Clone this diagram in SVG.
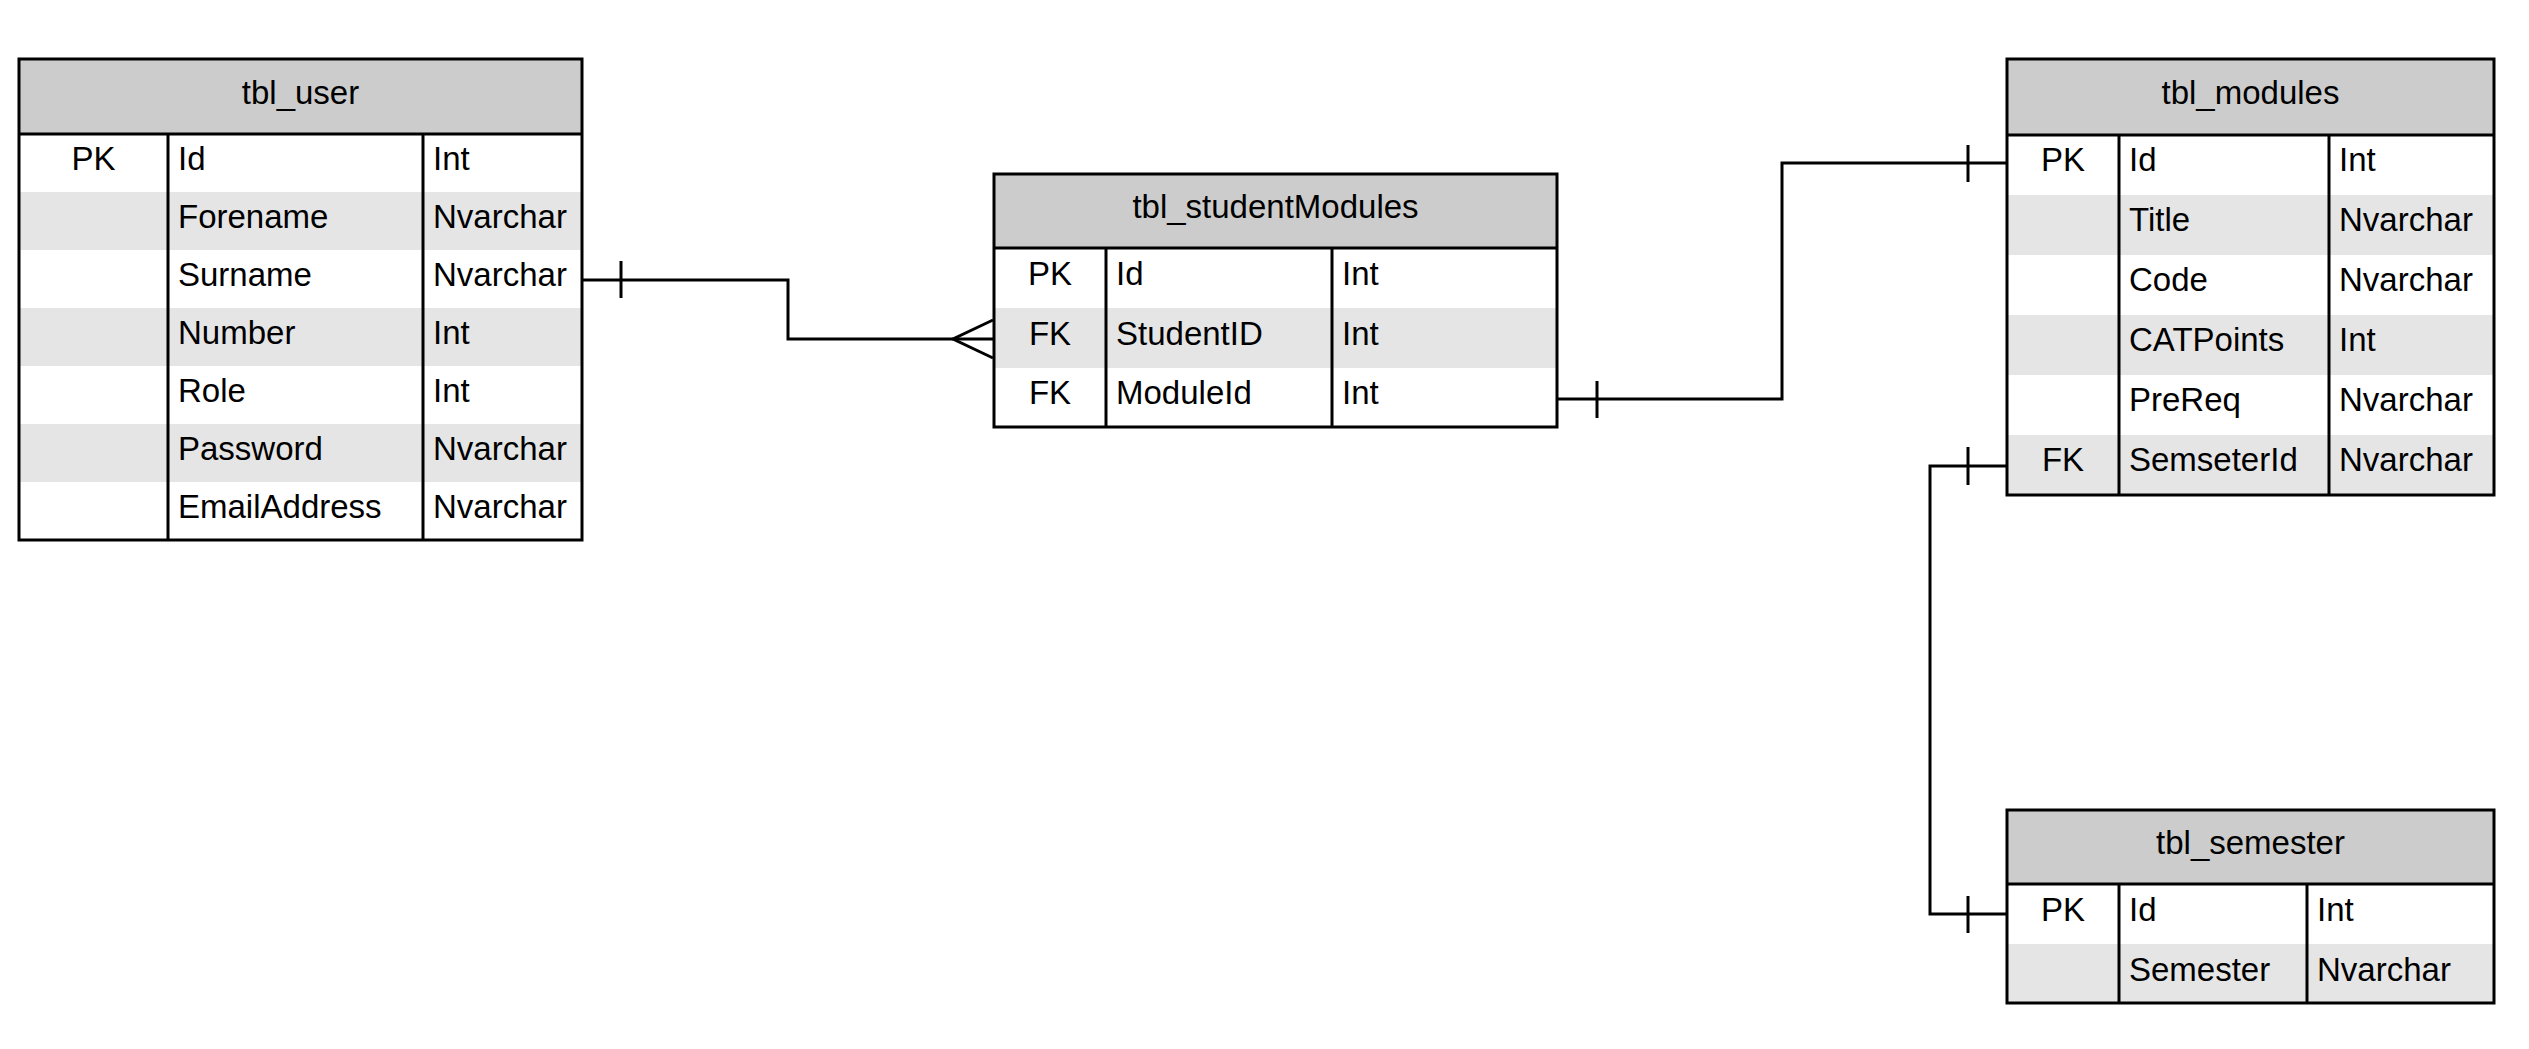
<svg xmlns="http://www.w3.org/2000/svg" width="2529" height="1049" viewBox="0 0 2529 1049">
<style>
  .bg { fill: #ffffff; }
  .hdr { fill: #cccccc; }
  .stripe { fill: #e5e5e5; }
  .ln { stroke: #000000; stroke-width: 3; fill: none; }
  .t { font-family: "Liberation Sans", Arial, sans-serif; font-size: 33px; fill: #000000; }
  .c { text-anchor: middle; }
  .conn { stroke: #000000; stroke-width: 3; fill: none; stroke-linejoin: miter; }
</style>
<rect x="0" y="0" width="2529" height="1049" fill="#ffffff"/>

<g id="tbl_user">
  <rect class="bg" x="19" y="59" width="563" height="481"/>
  <rect class="hdr" x="19" y="59" width="563" height="75"/>
  <rect class="stripe" x="19" y="192" width="563" height="58"/>
  <rect class="stripe" x="19" y="308" width="563" height="58"/>
  <rect class="stripe" x="19" y="424" width="563" height="58"/>
  <rect class="ln" x="19" y="59" width="563" height="481"/>
  <line class="ln" x1="19" y1="134" x2="582" y2="134"/>
  <line class="ln" x1="168" y1="134" x2="168" y2="540"/>
  <line class="ln" x1="423" y1="134" x2="423" y2="540"/>
  <text class="t c" x="300.5" y="104">tbl_user</text>
  <text class="t c" x="93.5" y="169.5">PK</text>
  <text class="t" x="178" y="169.5">Id</text>
  <text class="t" x="433" y="169.5">Int</text>
  <text class="t" x="178" y="227.5">Forename</text>
  <text class="t" x="433" y="227.5">Nvarchar</text>
  <text class="t" x="178" y="285.5">Surname</text>
  <text class="t" x="433" y="285.5">Nvarchar</text>
  <text class="t" x="178" y="343.5">Number</text>
  <text class="t" x="433" y="343.5">Int</text>
  <text class="t" x="178" y="401.5">Role</text>
  <text class="t" x="433" y="401.5">Int</text>
  <text class="t" x="178" y="459.5">Password</text>
  <text class="t" x="433" y="459.5">Nvarchar</text>
  <text class="t" x="178" y="517.5">EmailAddress</text>
  <text class="t" x="433" y="517.5">Nvarchar</text>
</g>

<g id="tbl_studentModules">
  <rect class="bg" x="994" y="174" width="563" height="253"/>
  <rect class="hdr" x="994" y="174" width="563" height="74"/>
  <rect class="stripe" x="994" y="308" width="563" height="60"/>
  <rect class="ln" x="994" y="174" width="563" height="253"/>
  <line class="ln" x1="994" y1="248" x2="1557" y2="248"/>
  <line class="ln" x1="1106" y1="248" x2="1106" y2="427"/>
  <line class="ln" x1="1332" y1="248" x2="1332" y2="427"/>
  <text class="t c" x="1275.5" y="218">tbl_studentModules</text>
  <text class="t c" x="1050" y="285">PK</text>
  <text class="t" x="1116" y="285">Id</text>
  <text class="t" x="1342" y="285">Int</text>
  <text class="t c" x="1050" y="345">FK</text>
  <text class="t" x="1116" y="345">StudentID</text>
  <text class="t" x="1342" y="345">Int</text>
  <text class="t c" x="1050" y="404">FK</text>
  <text class="t" x="1116" y="404">ModuleId</text>
  <text class="t" x="1342" y="404">Int</text>
</g>

<g id="tbl_modules">
  <rect class="bg" x="2007" y="59" width="487" height="436"/>
  <rect class="hdr" x="2007" y="59" width="487" height="76"/>
  <rect class="stripe" x="2007" y="195" width="487" height="60"/>
  <rect class="stripe" x="2007" y="315" width="487" height="60"/>
  <rect class="stripe" x="2007" y="435" width="487" height="60"/>
  <rect class="ln" x="2007" y="59" width="487" height="436"/>
  <line class="ln" x1="2007" y1="135" x2="2494" y2="135"/>
  <line class="ln" x1="2119" y1="135" x2="2119" y2="495"/>
  <line class="ln" x1="2329" y1="135" x2="2329" y2="495"/>
  <text class="t c" x="2250.5" y="104">tbl_modules</text>
  <text class="t c" x="2063" y="171">PK</text>
  <text class="t" x="2129" y="171">Id</text>
  <text class="t" x="2339" y="171">Int</text>
  <text class="t" x="2129" y="231">Title</text>
  <text class="t" x="2339" y="231">Nvarchar</text>
  <text class="t" x="2129" y="291">Code</text>
  <text class="t" x="2339" y="291">Nvarchar</text>
  <text class="t" x="2129" y="351">CATPoints</text>
  <text class="t" x="2339" y="351">Int</text>
  <text class="t" x="2129" y="411">PreReq</text>
  <text class="t" x="2339" y="411">Nvarchar</text>
  <text class="t c" x="2063" y="471">FK</text>
  <text class="t" x="2129" y="471">SemseterId</text>
  <text class="t" x="2339" y="471">Nvarchar</text>
</g>

<g id="tbl_semester">
  <rect class="bg" x="2007" y="810" width="487" height="193"/>
  <rect class="hdr" x="2007" y="810" width="487" height="74"/>
  <rect class="stripe" x="2007" y="944" width="487" height="59"/>
  <rect class="ln" x="2007" y="810" width="487" height="193"/>
  <line class="ln" x1="2007" y1="884" x2="2494" y2="884"/>
  <line class="ln" x1="2119" y1="884" x2="2119" y2="1003"/>
  <line class="ln" x1="2307" y1="884" x2="2307" y2="1003"/>
  <text class="t c" x="2250.5" y="854">tbl_semester</text>
  <text class="t c" x="2063" y="920.5">PK</text>
  <text class="t" x="2129" y="920.5">Id</text>
  <text class="t" x="2317" y="920.5">Int</text>
  <text class="t" x="2129" y="980.5">Semester</text>
  <text class="t" x="2317" y="980.5">Nvarchar</text>
</g>

<g id="connectors">
  <g id="user_studentModules">
    <path class="conn" d="M582,280 H788 V339 H994"/>
    <line class="conn" x1="621" y1="261" x2="621" y2="298"/>
    <path class="conn" d="M993,320 L953,339 L993,358"/>
  </g>
  <g id="studentModules_modules">
    <path class="conn" d="M1557,399 H1782 V163 H2007"/>
    <line class="conn" x1="1597" y1="381" x2="1597" y2="418"/>
    <line class="conn" x1="1968" y1="145" x2="1968" y2="182"/>
  </g>
  <g id="modules_semester">
    <path class="conn" d="M2007,466 H1930 V914 H2007"/>
    <line class="conn" x1="1968" y1="447" x2="1968" y2="485"/>
    <line class="conn" x1="1968" y1="896" x2="1968" y2="933"/>
  </g>
</g>
</svg>
